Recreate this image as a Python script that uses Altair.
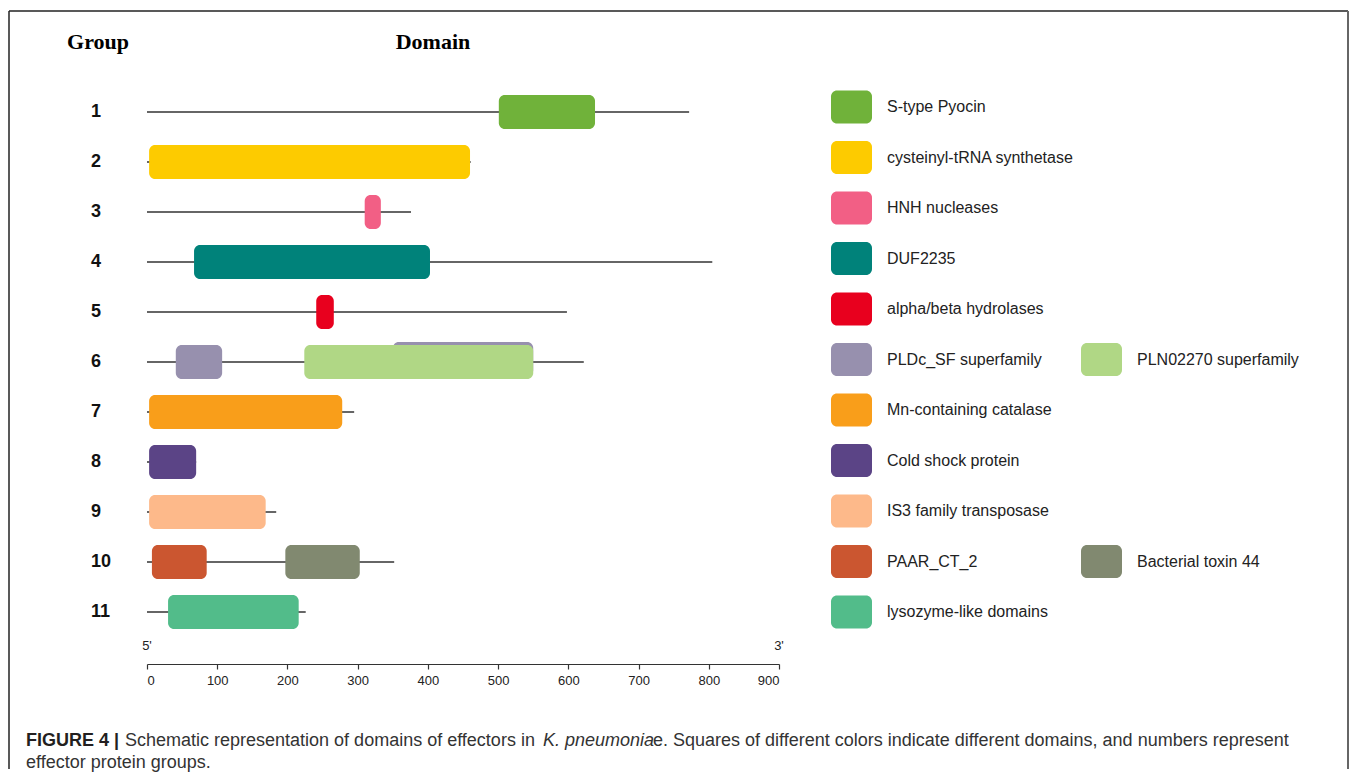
import altair as alt
import pandas as pd

# ---- data ----
groups = [1, 2, 3, 4, 5, 6, 7, 8, 9, 10, 11]
group_length = [772, 461, 376, 805, 598, 622, 295, 70, 184, 352, 226]

dom_group = [1, 2, 3, 4, 5, 6, 6, 7, 8, 9, 10, 10, 11]
dom_name = ["S-type Pyocin", "cysteinyl-tRNA synthetase", "HNH nucleases", "DUF2235",
            "alpha/beta hydrolases", "PLDc_SF superfamily", "PLN02270 superfamily",
            "Mn-containing catalase", "Cold shock protein", "IS3 family transposase",
            "PAAR_CT_2", "Bacterial toxin 44", "lysozyme-like domains"]
dom_start = [501, 3, 310, 67, 241, 41, 224, 3, 3, 3, 7, 197, 30]
dom_end = [638, 460, 333, 403, 266, 107, 550, 278, 70, 169, 85, 303, 216]

# second PLDc domain of group 6, drawn behind PLN02270
back_group = [6]
back_name = ["PLDc_SF superfamily"]
back_start = [350]
back_end = [550]

leg_names = ["S-type Pyocin", "cysteinyl-tRNA synthetase", "HNH nucleases", "DUF2235",
             "alpha/beta hydrolases", "PLDc_SF superfamily", "PLN02270 superfamily",
             "Mn-containing catalase", "Cold shock protein", "IS3 family transposase",
             "PAAR_CT_2", "Bacterial toxin 44", "lysozyme-like domains"]
leg_col = [0, 0, 0, 0, 0, 0, 1, 0, 0, 0, 0, 1, 0]
leg_row = [1, 2, 3, 4, 5, 6, 6, 7, 8, 9, 10, 10, 11]
leg_colors = ["#70B23A", "#FDCB00", "#F25F85", "#00827A", "#E8001E", "#9790AE", "#B0D785",
              "#F99E1A", "#5B4486", "#FDB98A", "#CB5630", "#818970", "#52BC8A"]

ends_label = ["5'", "3'"]
ends_pos = [0, 900]
tick_values = [0, 100, 200, 300, 400, 500, 600, 700, 800, 900]

caption_1a = "FIGURE 4 |"
caption_1b = "Schematic representation of domains of effectors in"
caption_1c = "K. pneumonia"
caption_1d = "e. Squares of different colors indicate different domains, and numbers represent"
caption_2 = "effector protein groups."

# ---- tables ----
lines_df = pd.DataFrame({"group": groups, "start": [0] * len(groups), "length": group_length})
dom_df = pd.DataFrame({"group": dom_group, "name": dom_name, "start": dom_start, "end": dom_end})
back_df = pd.DataFrame({"group": back_group, "name": back_name, "start": back_start, "end": back_end})
leg_df = pd.DataFrame({"name": leg_names, "col": leg_col, "row": leg_row})
ends_df = pd.DataFrame({"label": ends_label, "pos": ends_pos})

W, H = 1340, 758
FONT = "Liberation Sans"

xs = alt.Scale(domain=[0, 900], range=[138, 770], nice=False, padding=0)
ys = alt.Scale(domain=[1, 11], range=[101, 601], nice=False, zero=False, padding=0)
cs = alt.Scale(domain=leg_names, range=leg_colors)

x_axis = alt.Axis(values=tick_values, title=None, grid=False, orient="bottom",
                  offset=653 - H, labelFont=FONT, labelFontSize=13, labelColor="#222",
                  tickSize=5, tickColor="#333", domainColor="#333", domainWidth=1.2,
                  tickWidth=1.2, labelPadding=5)

lines = alt.Chart(lines_df).mark_rule(color="#333", strokeWidth=1.3).encode(
    x=alt.X("start:Q", scale=xs, axis=x_axis),
    x2="length:Q",
    y=alt.Y("group:Q", scale=ys, axis=None),
)

back = alt.Chart(back_df).mark_bar(size=34, cornerRadius=6, yOffset=-3).encode(
    x=alt.X("start:Q", scale=xs),
    x2="end:Q",
    y=alt.Y("group:Q", scale=ys),
    color=alt.Color("name:N", scale=cs, legend=None),
)

bars = alt.Chart(dom_df).mark_bar(size=34, cornerRadius=6).encode(
    x=alt.X("start:Q", scale=xs),
    x2="end:Q",
    y=alt.Y("group:Q", scale=ys),
    color=alt.Color("name:N", scale=cs, legend=None),
)

glabels = alt.Chart(lines_df).mark_text(align="left", baseline="middle", font=FONT,
                                        fontSize=18, fontWeight="bold", color="#111").encode(
    x=alt.value(82),
    y=alt.Y("group:Q", scale=ys),
    text="group:N",
)

ends = alt.Chart(ends_df).mark_text(align="center", baseline="middle", font=FONT,
                                    fontSize=13, color="#222").encode(
    x=alt.X("pos:Q", scale=xs),
    y=alt.value(635),
    text="label:N",
)

main = alt.layer(lines, back, bars, glabels, ends)

lxs = alt.Scale(domain=[0, 1], range=[842.5, 1092.5], nice=False, zero=False, padding=0)
lys = alt.Scale(domain=[1, 11], range=[96, 601], nice=False, zero=False, padding=0)

swatches = alt.Chart(leg_df).mark_rect(width=41, height=33, cornerRadius=6).encode(
    x=alt.X("col:Q", scale=lxs, axis=None),
    y=alt.Y("row:Q", scale=lys, axis=None),
    color=alt.Color("name:N", scale=cs, legend=None),
)
leg_text = alt.Chart(leg_df).mark_text(align="left", baseline="middle", dx=35.5, font=FONT,
                                       fontSize=16, color="#222").encode(
    x=alt.X("col:Q", scale=lxs, axis=None),
    y=alt.Y("row:Q", scale=lys, axis=None),
    text="name:N",
)
legend = alt.layer(swatches, leg_text)

base = alt.Chart(pd.DataFrame({"k": [0]}))
frame_top = base.mark_rule(color="#222", strokeWidth=1.5).encode(
    x=alt.value(0), x2=alt.value(W - 1), y=alt.value(0))
frame_left = base.mark_rule(color="#222", strokeWidth=1.5).encode(
    x=alt.value(0), y=alt.value(0), y2=alt.value(H))
frame_right = base.mark_rule(color="#666", strokeWidth=2).encode(
    x=alt.value(W - 1), y=alt.value(0), y2=alt.value(H))

t_group = base.mark_text(font="Liberation Serif", fontSize=22, fontWeight="bold",
                         color="#000", baseline="middle", align="center").encode(
    x=alt.value(89), y=alt.value(31), text=alt.value("Group"))
t_domain = base.mark_text(font="Liberation Serif", fontSize=22, fontWeight="bold",
                          color="#000", baseline="middle", align="center").encode(
    x=alt.value(424), y=alt.value(31), text=alt.value("Domain"))

cap_kw = dict(font=FONT, fontSize=18, baseline="middle", align="left", color="#333")
c1a = base.mark_text(**{**cap_kw, "fontWeight": "bold", "color": "#231F20"}).encode(
    x=alt.value(17), y=alt.value(730), text=alt.value(caption_1a))
c1b = base.mark_text(**cap_kw).encode(x=alt.value(116), y=alt.value(730), text=alt.value(caption_1b))
c1c = base.mark_text(**{**cap_kw, "fontStyle": "italic"}).encode(
    x=alt.value(534), y=alt.value(730), text=alt.value(caption_1c))
c1d = base.mark_text(**cap_kw).encode(x=alt.value(644), y=alt.value(730), text=alt.value(caption_1d))
c2 = base.mark_text(**cap_kw).encode(x=alt.value(17), y=alt.value(752), text=alt.value(caption_2))

deco = alt.layer(frame_top, frame_left, frame_right, t_group, t_domain, c1a, c1b, c1c, c1d, c2)

chart = alt.layer(main, legend, deco).resolve_scale(
    x="independent", y="independent", color="shared"
).properties(
    width=W, height=H,
    padding={"left": 0, "top": 2, "right": 0, "bottom": 0},
    background="white",
).configure_view(stroke=None)

chart.save("out.html", embed_options={"renderer": "svg", "actions": False})
